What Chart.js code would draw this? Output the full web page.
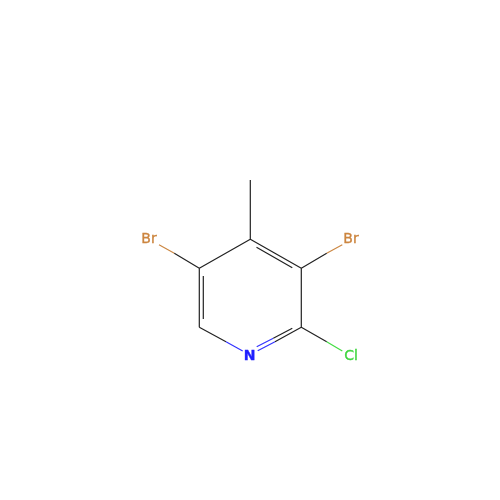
<!DOCTYPE html>
<html>
<head>
<meta charset="utf-8">
<script src="https://cdn.jsdelivr.net/npm/chart.js@4"></script>
<style>
html, body { margin: 0; padding: 0; background: #fff; }
canvas { display: block; }
</style>
</head>
<body>
<canvas id="chart" width="500" height="500"></canvas>
<script>
// bond segments, NaN breaks the line between two segments
const blackX = [250.3, 250.3, NaN, 250.3, 301.3, NaN, 256.5, 292.3, NaN, 301.3, 301.3, NaN, 250.3, 199.3, NaN, 199.3, 199.3, NaN, 203.3, 203.3, NaN, 199.3, 226, NaN, 301.3, 275, NaN, 292.3, 273.3, NaN, 301.3, 326.7, NaN, 301.3, 326.7, NaN, 199.3, 174.3];
const blackY = [180, 239.3, NaN, 239.3, 268.3, NaN, 247.3, 267.7, NaN, 268.3, 327.3, NaN, 239.3, 268.3, NaN, 268.3, 327.3, NaN, 276, 319, NaN, 327.3, 341.7, NaN, 327.3, 341.7, NaN, 328.3, 338.3, NaN, 268.3, 253.3, NaN, 327.3, 341.7, NaN, 268.3, 253.3];
const blueX = [226, 242.7, NaN, 275, 257.7, NaN, 273.3, 256.7];
const blueY = [341.7, 351, NaN, 341.7, 350.7, NaN, 338.3, 346.7];
const brownX = [326.7, 342.3, NaN, 174.3, 159];
const brownY = [253.3, 244.7, NaN, 253.3, 244.7];
const greenX = [326.7, 342.3];
const greenY = [341.7, 351];

const atomLabels = ['Br', 'Br', 'Cl', 'N'];
const atomX = [149, 351, 351, 249.5];
const atomY = [239.3, 239.3, 356.3, 356.3];
const atomColors = ['#cc853f', '#cc853f', '#3fd63f', '#1f1fff'];
const atomFonts = ['14px "DejaVu Sans"', '14px "DejaVu Sans"', '14px "DejaVu Sans"', 'bold 14px "DejaVu Sans"'];

function toPoints(xs, ys) {
    return xs.map((x, i) => ({ x: x, y: ys[i] }));
}

function bondSet(xs, ys, color) {
    return {
        data: toPoints(xs, ys),
        borderColor: color,
        borderWidth: 1.2,
        pointRadius: 0,
        showLine: true,
        spanGaps: false,
        fill: false,
    };
}

// element symbols are placed through the chart's scales
const atomLabelPlugin = {
    id: 'atomLabels',
    afterDatasetsDraw(chart) {
        const c = chart.ctx;
        c.save();
        c.textAlign = 'center';
        c.textBaseline = 'middle';
        c.lineWidth = 0.35;
        atomLabels.forEach((label, i) => {
            const px = chart.scales.x.getPixelForValue(atomX[i]);
            const py = chart.scales.y.getPixelForValue(atomY[i]);
            c.font = atomFonts[i];
            c.fillStyle = atomColors[i];
            c.strokeStyle = atomColors[i];
            c.fillText(label, px, py);
            c.strokeText(label, px, py);
        });
        c.restore();
    },
};

new Chart(document.getElementById('chart'), {
    type: 'scatter',
    data: {
        datasets: [
            bondSet(blackX, blackY, '#222222'),
            bondSet(blueX, blueY, '#3333ff'),
            bondSet(brownX, brownY, '#cc8844'),
            bondSet(greenX, greenY, '#44dd44'),
        ],
    },
    options: {
        responsive: false,
        animation: false,
        layout: { padding: 0 },
        plugins: { legend: { display: false }, tooltip: { enabled: false } },
        scales: {
            x: { type: 'linear', min: 0, max: 500, display: false },
            y: { type: 'linear', min: 0, max: 500, reverse: true, display: false },
        },
    },
    plugins: [atomLabelPlugin],
});
</script>
</body>
</html>
